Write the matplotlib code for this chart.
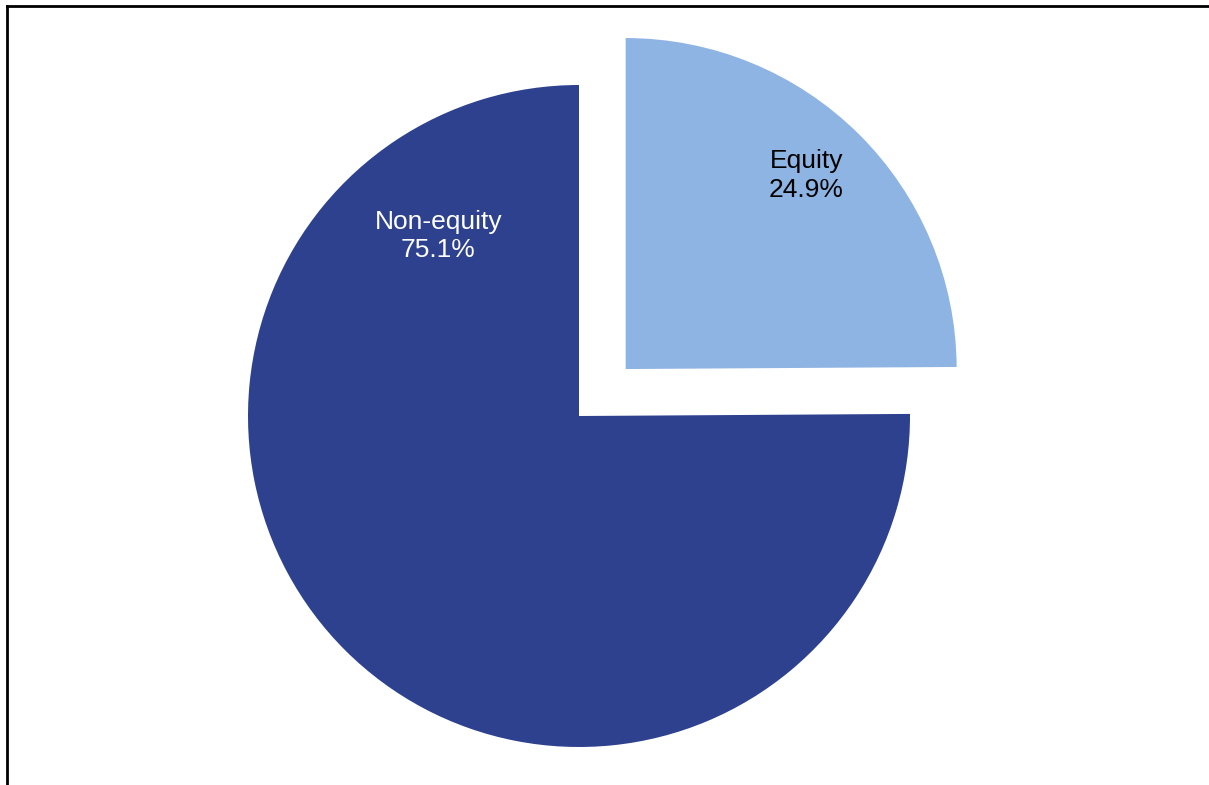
import numpy as np
import matplotlib
matplotlib.use("Agg")
import matplotlib.pyplot as plt
from matplotlib.lines import Line2D

categories = ["Equity", "Non-equity"]
shares = [24.9, 75.1]
colors = ["#8EB4E3", "#2E418F"]
text_colors = ["black", "white"]
explode_frac = [0.2, 0.0]
# label placement (angle in degrees, distance as fraction of radius) per slice
label_angles = [47.0, 128.0]
label_dists = [0.80, 0.69]

plt.rcParams['font.family'] = ['Liberation Sans', 'DejaVu Sans']

W, H = 1209, 785
fig = plt.figure(figsize=(W / 100, H / 100), dpi=100)
ax = fig.add_axes([0, 0, 1, 1])

cx, cy, R = 579, H - 416, 331
wedges, _ = ax.pie(shares, colors=colors, explode=[e * R for e in explode_frac],
                   startangle=90, counterclock=False, center=(cx, cy), radius=R,
                   wedgeprops=dict(linewidth=0), frame=True)
ax.set_xlim(0, W)
ax.set_ylim(0, H)
ax.set_aspect('equal')
ax.axis('off')

for w, cat, val, tc, ang, d in zip(wedges, categories, shares, text_colors,
                                     label_angles, label_dists):
    ccx, ccy = w.center
    a = np.deg2rad(ang)
    ax.text(ccx + d * R * np.cos(a), ccy + d * R * np.sin(a),
            f"{cat}\n{val:.1f}%", ha='center', va='center', color=tc,
            fontsize=19, linespacing=1.25)

# outer frame lines (top and left visible)
fig.add_artist(Line2D([7 / W, 1], [1 - 6 / H, 1 - 6 / H], color='black', lw=2,
                      transform=fig.transFigure))
fig.add_artist(Line2D([7 / W, 7 / W], [0, 1 - 6 / H], color='black', lw=2,
                      transform=fig.transFigure))

fig.savefig("out.png", dpi=100)
